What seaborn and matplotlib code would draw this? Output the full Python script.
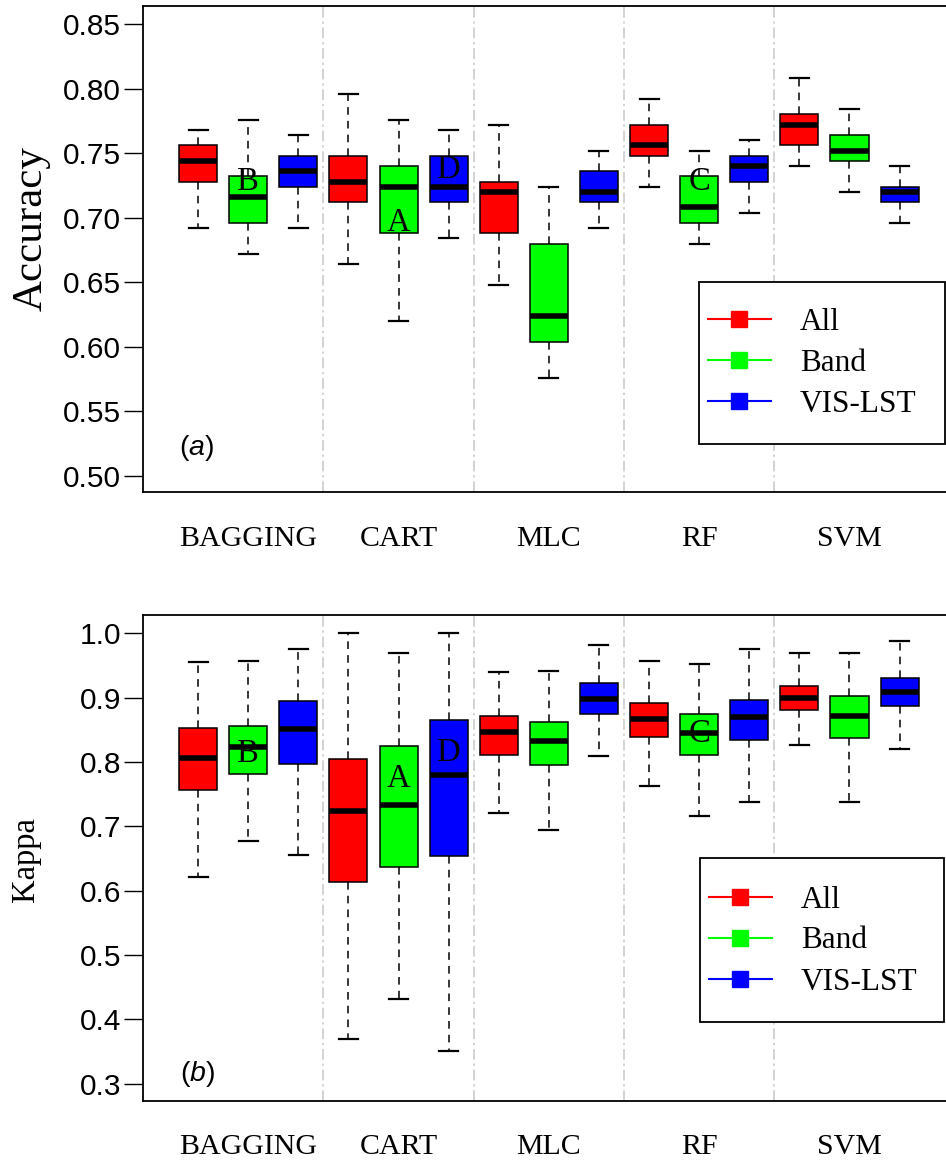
import numpy as np
import pandas as pd
import matplotlib
matplotlib.use("Agg")
import matplotlib.pyplot as plt
import seaborn as sns
from matplotlib.lines import Line2D
from matplotlib.patches import Rectangle

# ---------------- data ----------------
methods = ["BAGGING", "CART", "MLC", "RF", "SVM"]
feature_sets = ["All", "Band", "VIS-LST"]
set_colors = ["#FF0000", "#00FF00", "#0000FF"]

# five-number summaries (min, q1, median, q3, max) per method
acc_all = [[0.692, 0.728, 0.744, 0.756, 0.768],
           [0.664, 0.712, 0.728, 0.748, 0.796],
           [0.648, 0.688, 0.720, 0.728, 0.772],
           [0.724, 0.748, 0.756, 0.772, 0.792],
           [0.740, 0.756, 0.772, 0.780, 0.808]]
acc_band = [[0.672, 0.696, 0.716, 0.732, 0.776],
            [0.620, 0.688, 0.724, 0.740, 0.776],
            [0.576, 0.604, 0.624, 0.680, 0.724],
            [0.680, 0.696, 0.708, 0.732, 0.752],
            [0.720, 0.744, 0.752, 0.764, 0.784]]
acc_vislst = [[0.692, 0.724, 0.736, 0.748, 0.764],
              [0.684, 0.712, 0.724, 0.748, 0.768],
              [0.692, 0.712, 0.720, 0.736, 0.752],
              [0.704, 0.728, 0.740, 0.748, 0.760],
              [0.696, 0.712, 0.720, 0.724, 0.740]]

kappa_all = [[0.621, 0.757, 0.806, 0.852, 0.955],
             [0.370, 0.614, 0.724, 0.805, 1.000],
             [0.721, 0.810, 0.847, 0.872, 0.940],
             [0.762, 0.838, 0.867, 0.891, 0.957],
             [0.827, 0.880, 0.899, 0.918, 0.970]]
kappa_band = [[0.677, 0.782, 0.823, 0.856, 0.957],
              [0.432, 0.637, 0.733, 0.824, 0.969],
              [0.694, 0.795, 0.832, 0.862, 0.942],
              [0.716, 0.811, 0.845, 0.874, 0.953],
              [0.738, 0.837, 0.871, 0.903, 0.970]]
kappa_vislst = [[0.656, 0.797, 0.851, 0.895, 0.975],
                [0.351, 0.654, 0.779, 0.865, 1.000],
                [0.809, 0.874, 0.898, 0.922, 0.982],
                [0.738, 0.834, 0.870, 0.897, 0.975],
                [0.820, 0.887, 0.909, 0.931, 0.988]]

acc_ticks = [0.50, 0.55, 0.60, 0.65, 0.70, 0.75, 0.80, 0.85]
kappa_ticks = [0.3, 0.4, 0.5, 0.6, 0.7, 0.8, 0.9, 1.0]

# significance letters: (letter, method, feature set, value at letter baseline)
acc_letters = [("B", "BAGGING", "Band", 0.7215),
               ("A", "CART", "Band", 0.6897),
               ("D", "CART", "VIS-LST", 0.7305),
               ("C", "RF", "Band", 0.7215)]
kappa_letters = [("B", "BAGGING", "Band", 0.8004),
                 ("A", "CART", "Band", 0.7616),
                 ("D", "CART", "VIS-LST", 0.8020),
                 ("C", "RF", "Band", 0.8315)]

# ---------------- style ----------------
plt.rcParams["font.family"] = ["Liberation Sans", "DejaVu Sans"]
plt.rcParams["mathtext.fontset"] = "custom"
plt.rcParams["mathtext.it"] = "Liberation Sans:italic"
plt.rcParams["mathtext.rm"] = "Liberation Sans"

W, H = 946, 1160
fig = plt.figure(figsize=(W / 100, H / 100), dpi=100)

ax_left = 143 / W
ax_w = (946 - 143) / W
ax_h = 486 / H
ax_top = fig.add_axes([ax_left, (H - 492) / H, ax_w, ax_h])
ax_bot = fig.add_axes([ax_left, (H - 1101) / H, ax_w, ax_h])

offsets = {s: (i - 1) / 3 for i, s in enumerate(feature_sets)}


def draw(ax, summaries, ylim, ticks, fmt, letters, panel, xpad, frame_px, first_row_y):
    rows = []
    for s, summ in zip(feature_sets, summaries):
        for m, five in zip(methods, summ):
            for v in five:
                rows.append((m, s, v))
    df = pd.DataFrame(rows, columns=["method", "set", "value"])

    for b in [0.5, 1.5, 2.5, 3.5]:
        ax.axvline(b, color="#C8C8C8", lw=1.1, ls=(0, (7, 2.5, 1.5, 2.5)), zorder=0.5)

    sns.boxplot(data=df, x="method", y="value", hue="set", order=methods,
                hue_order=feature_sets, palette=set_colors, saturation=1,
                whis=(0, 100), width=1.0, gap=0.24, dodge=True,
                linecolor="black", linewidth=1.1, fliersize=0, legend=False, ax=ax,
                whiskerprops=dict(linestyle=(0, (5, 4)), linewidth=1.1),
                capprops=dict(linewidth=1.6, linestyle="-"),
                medianprops=dict(linewidth=4.0, color="black"))

    ax.set_xlim(-0.70, 4.642)
    ax.set_ylim(*ylim)
    ax.set_xlabel("")
    ax.set_ylabel("")
    ax.set_yticks(ticks)
    ax.set_yticklabels([fmt.format(t) for t in ticks])
    ax.set_xticks(range(len(methods)))
    ax.set_xticklabels(methods)

    for sp in ["left", "bottom", "top"]:
        ax.spines[sp].set_linewidth(1.3)
        ax.spines[sp].set_color("black")
    ax.spines["right"].set_visible(False)

    ax.tick_params(axis="y", length=13.7, width=1.0, pad=2, labelsize=21.5,
                   direction="out", colors="black")
    ax.tick_params(axis="x", length=0, pad=xpad, labelsize=21.5)
    for tl in ax.get_xticklabels():
        tl.set_fontfamily("Liberation Serif")
    for tl in ax.get_yticklabels():
        tl.set_fontfamily("Liberation Sans")

    for letter, m, s, yv in letters:
        ax.text(methods.index(m) + offsets[s], yv, letter, ha="center",
                va="baseline", family="Liberation Serif", fontsize=23.5, zorder=5)

    ax.text(panel[1], panel[2], panel[0], transform=ax.transAxes, ha="center",
            va="center", family="Liberation Sans", fontsize=20.5)

    # legend frame (opaque) and entries
    x0, y0, x1, y1 = frame_px
    frame = Rectangle((x0 / W, 1 - y1 / H), (x1 - x0) / W, (y1 - y0) / H,
                      transform=fig.transFigure, facecolor="white", edgecolor="black",
                      linewidth=1.3, zorder=6)
    fig.add_artist(frame)
    handles = [Line2D([0], [0], color=c, lw=1.5, marker="s", markersize=11,
                      markerfacecolor=c, markeredgecolor=c) for c in set_colors]
    leg = fig.legend(handles, feature_sets, loc="upper left",
                     bbox_to_anchor=((x0 + 9) / W, 1 - (first_row_y - 14.5) / H),
                     bbox_transform=fig.transFigure, frameon=False,
                     prop={"family": "Liberation Serif", "size": 22.5},
                     handlelength=2.0, handletextpad=0.94, labelspacing=0.384,
                     borderpad=0, borderaxespad=0)
    leg.set_zorder(7)


draw(ax_top, [acc_all, acc_band, acc_vislst], (0.4876, 0.8639), acc_ticks,
     "{:.2f}", acc_letters, (r"($\mathit{a}$)", 0.0672, 0.0905), 24.5,
     (699, 282, 945, 444), 322.3)
draw(ax_bot, [kappa_all, kappa_band, kappa_vislst], (0.2729, 1.0284), kappa_ticks,
     "{:.1f}", kappa_letters, (r"($\mathit{b}$)", 0.0685, 0.0556), 23.5,
     (700, 858, 944, 1022), 900.0)

fig.text(31.2 / W, 1 - 228.4 / H, "Accuracy", rotation=90, ha="center", va="center",
         family="Liberation Serif", fontsize=31)
fig.text(25.7 / W, 1 - 859.5 / H, "Kappa", rotation=90, ha="center", va="center",
         family="Liberation Serif", fontsize=23.5)

fig.savefig("out.png", dpi=100)
